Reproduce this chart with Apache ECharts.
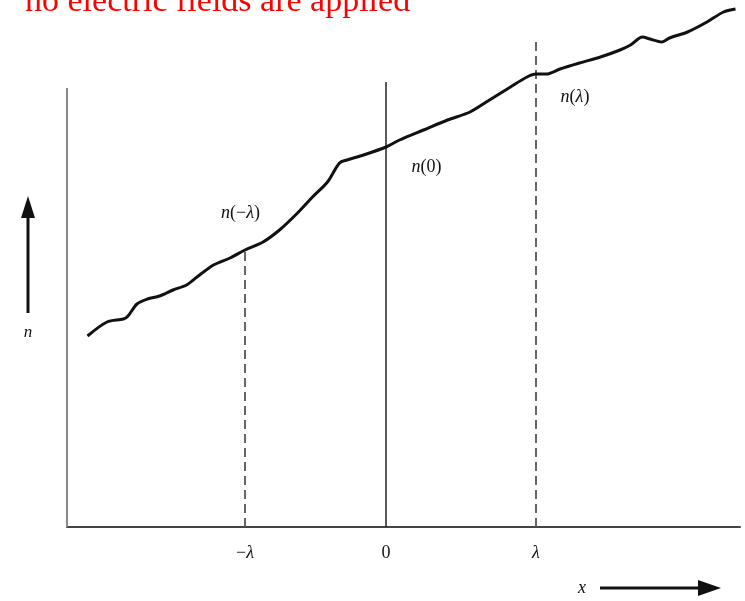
<!DOCTYPE html>
<html>
<head>
<meta charset="utf-8">
<style>html,body{margin:0;padding:0;background:#fff}#c{width:745px;height:601px}</style>
<script src="https://cdn.jsdelivr.net/npm/echarts@6/dist/echarts.min.js"></script>
</head>
<body>
<div id="c"></div>
<script>
// x in units where lambda = 100, y = concentration n (arbitrary units)
const curveX = [-199,-186,-175,-172,-166,-159,-151,-142,-133,-126,-115,-104,-94,-82,-71,-59,-49,-39,-31,-26,-15,0,9,25,41,56,69,83,94,100,107,116,129,143,156,163,171,176,184,189,201,214,225,233];
const curveY = [191,205,208,211,223,228,231,237,242,250,262,269,277,285,297,314,330,345,364,367,372,380,387,397,407,415,427,440,450,453,453,458,464,470,477,482,490,488,485,489,495,505,515,518];
const tickValues = [-94, 0, 100];
const tickLabels = ['−{i|λ}', '0', '{i|λ}'];
const guideX = [-94, 0, 100];
const guideTop = [277, 445, 485];
const yAxisTop = 439;
const annotX = [-97, 27, 126];
const annotY = [314, 360, 430];
const annotText = ['{i|n}(−{i|λ})', '{i|n}(0)', '{i|n}({i|λ})'];
const titleText = 'no electric fields are applied';

const xMin = -212.67, xMax = 236;

const chart = echarts.init(document.getElementById('c'));
const serif = 'Liberation Serif';
const italicRich = { i: { fontStyle: 'italic', fontFamily: serif, fontSize: 18, color: '#111' } };
const series = [];
series.push({
  type: 'line', data: curveX.map((x, i) => [x, curveY[i]]), smooth: 0.3, showSymbol: false, silent: true,
  lineStyle: { color: '#111', width: 3 }, z: 5
});
series.push({
  type: 'line', data: [[xMin, 0], [xMin, yAxisTop]], showSymbol: false, silent: true,
  lineStyle: { color: '#888', width: 2 }
});
guideX.forEach((gx, i) => {
  series.push({
    type: 'line', data: [[gx, 0], [gx, guideTop[i]]], showSymbol: false, silent: true,
    lineStyle: gx === 0 ? { color: '#222', width: 1.5 } : { color: '#555', width: 1.8, type: [9, 5] }
  });
});
series.push({
  type: 'scatter', symbolSize: 0, silent: true, itemStyle: { opacity: 1 },
  data: annotX.map((x, i) => ({ value: [x, annotY[i]], label: { formatter: annotText[i] } })),
  label: {
    show: true, position: 'inside', color: '#111', fontFamily: serif, fontSize: 18,
    rich: italicRich
  }
});

chart.setOption({
  animation: false,
  backgroundColor: '#fff',
  grid: { left: 67, top: 0, width: 673, height: 527 },
  xAxis: {
    type: 'value', min: xMin, max: xMax,
    axisLine: { show: true, lineStyle: { color: '#444', width: 2 } },
    axisTick: { show: false },
    splitLine: { show: false },
    axisLabel: {
      customValues: tickValues,
      formatter: v => { const k = tickValues.indexOf(v); return k >= 0 ? tickLabels[k] : ''; },
      margin: 17, fontFamily: serif, fontSize: 18, color: '#111', rich: italicRich
    }
  },
  yAxis: {
    type: 'value', min: 0, max: 527,
    axisLine: { show: false }, axisTick: { show: false }, axisLabel: { show: false }, splitLine: { show: false }
  },
  series: series,
  graphic: [
    { type: 'text', left: 25, top: -15, style: { text: titleText, fill: '#ff0000', font: '34px "Liberation Serif"' } },
    { type: 'text', x: 28, y: 333, style: { text: 'n', fill: '#111', font: 'italic 17px "Liberation Serif"', align: 'center', verticalAlign: 'middle' } },
    { type: 'line', shape: { x1: 28, y1: 313, x2: 28, y2: 212 }, style: { stroke: '#111', lineWidth: 3 } },
    { type: 'polygon', shape: { points: [[28, 196], [21, 218], [35, 218]] }, style: { fill: '#111' } },
    { type: 'text', x: 582, y: 588, style: { text: 'x', fill: '#111', font: 'italic 18px "Liberation Serif"', align: 'center', verticalAlign: 'middle' } },
    { type: 'line', shape: { x1: 600, y1: 588, x2: 705, y2: 588 }, style: { stroke: '#111', lineWidth: 3 } },
    { type: 'polygon', shape: { points: [[721, 588], [698, 580], [698, 596]] }, style: { fill: '#111' } }
  ]
});
</script>
</body>
</html>
